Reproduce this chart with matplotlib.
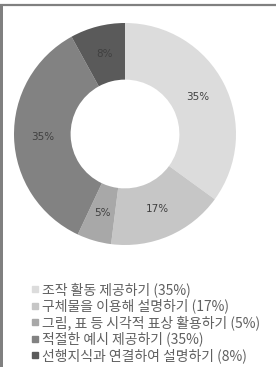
import matplotlib
matplotlib.use("Agg")
import matplotlib.pyplot as plt
from matplotlib.lines import Line2D
from matplotlib.patches import Rectangle

plt.rcParams['font.family'] = ['Noto Sans CJK KR', 'DejaVu Sans']

categories = ["조작 활동 제공하기", "구체물을 이용해 설명하기", "그림, 표 등 시각적 표상 활용하기",
              "적절한 예시 제공하기", "선행지식과 연결하여 설명하기"]
values = [35, 17, 5, 35, 8]
colors = ["#dcdcdc", "#c6c6c6", "#a8a8a8", "#828282", "#5a5a5a"]

W, H = 276, 367
fig = plt.figure(figsize=(W / 100, H / 100), dpi=100)
fig.patch.set_facecolor("white")

cx, cy, R = 125, 134, 111
ax = fig.add_axes([(cx - R) / W, (H - cy - R) / H, 2 * R / W, 2 * R / H])
wedges, texts, autotexts = ax.pie(
    values, colors=colors, startangle=90, counterclock=False,
    autopct=lambda p: f"{p:.0f}%", pctdistance=0.74,
    wedgeprops=dict(width=0.51, edgecolor="none"),
    textprops=dict(fontsize=7.5, color="#404040", family="DejaVu Sans"))
ax.set_aspect("equal")
ax.set_xlim(-1, 1)
ax.set_ylim(-1, 1)
ax.axis("off")

handles = [Line2D([], [], marker="s", linestyle="none", markersize=4,
                  markerfacecolor=c, markeredgecolor=c) for c in colors]
labels = [f"{c} ({v}%)" for c, v in zip(categories, values)]
leg = fig.legend(handles, labels, loc="upper left", bbox_to_anchor=(32 / W, 1 - 282 / H),
                 frameon=False, fontsize=10, handlelength=0.5, handletextpad=0.2,
                 labelspacing=0.12, borderaxespad=0, borderpad=0)
for t in leg.get_texts():
    t.set_color("#606060")

# frame lines
fig.add_artist(Rectangle((0, 0), 2.5 / W, 1 - 4 / H, transform=fig.transFigure,
                         facecolor="#808080", edgecolor="none", zorder=10))
fig.add_artist(Line2D([0, 1], [1 - 5 / H, 1 - 5 / H], transform=fig.transFigure,
                      color="#808080", linewidth=1.6, zorder=10))

fig.savefig("out.png", dpi=100)
